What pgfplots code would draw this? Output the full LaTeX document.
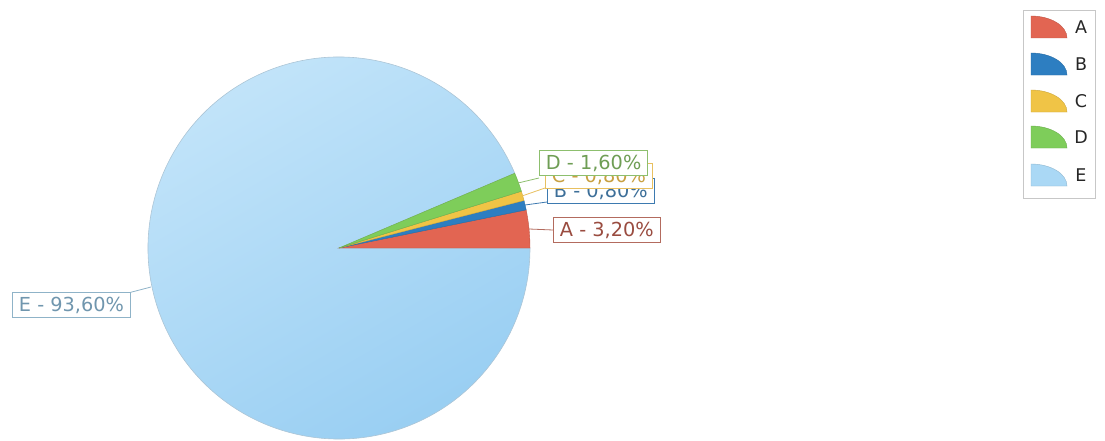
\documentclass[border=0pt]{standalone}
\usepackage{pgfplots}
\pgfplotsset{compat=1.18}
\usepackage{fontspec}
\setmainfont{DejaVu Sans}
\definecolor{colA}{RGB}{226,101,82}
\definecolor{colB}{RGB}{45,126,193}
\definecolor{colC}{RGB}{240,196,70}
\definecolor{colD}{RGB}{126,205,90}
\definecolor{colE}{RGB}{170,216,245}
\definecolor{colEtop}{RGB}{196,229,250}
\definecolor{colEbot}{RGB}{152,206,242}
\definecolor{bA}{RGB}{179,107,94}
\definecolor{tA}{RGB}{154,76,64}
\definecolor{bB}{RGB}{61,122,176}
\definecolor{tB}{RGB}{61,111,153}
\definecolor{bC}{RGB}{232,192,96}
\definecolor{tC}{RGB}{200,160,64}
\definecolor{bD}{RGB}{141,191,110}
\definecolor{tD}{RGB}{111,158,85}
\definecolor{bE}{RGB}{143,179,200}
\definecolor{tE}{RGB}{112,150,174}
% data (percent)
\def\pA{3.2}
\def\pB{0.8}
\def\pC{0.8}
\def\pD{1.6}
\def\pE{93.6}
\def\cx{339}
\def\cy{192}
\def\R{191}
\begin{document}
\begin{tikzpicture}
\begin{axis}[
  width=1105pt, height=440pt, scale only axis,
  xmin=0, xmax=1105, ymin=0, ymax=440,
  hide axis, clip=false,
]
% slices
\shade[top color=colEtop, bottom color=colEbot, shading angle=30, draw=colE!80!black!70, line width=0.6pt]
  (axis cs:\cx,\cy) -- ++({(\pA+\pB+\pC+\pD)*3.6}:\R) arc[start angle={(\pA+\pB+\pC+\pD)*3.6}, end angle=360, radius=\R] -- cycle;
\fill[colA, draw=colA!85!black, line width=0.4pt]
  (axis cs:\cx,\cy) -- ++(0:\R) arc[start angle=0, end angle={\pA*3.6}, radius=\R] -- cycle;
\fill[colB, draw=colB!85!black, line width=0.4pt]
  (axis cs:\cx,\cy) -- ++({\pA*3.6}:\R) arc[start angle={\pA*3.6}, end angle={(\pA+\pB)*3.6}, radius=\R] -- cycle;
\fill[colC, draw=colC!85!black, line width=0.4pt]
  (axis cs:\cx,\cy) -- ++({(\pA+\pB)*3.6}:\R) arc[start angle={(\pA+\pB)*3.6}, end angle={(\pA+\pB+\pC)*3.6}, radius=\R] -- cycle;
\fill[colD, draw=colD!85!black, line width=0.4pt]
  (axis cs:\cx,\cy) -- ++({(\pA+\pB+\pC)*3.6}:\R) arc[start angle={(\pA+\pB+\pC)*3.6}, end angle={(\pA+\pB+\pC+\pD)*3.6}, radius=\R] -- cycle;
% leader lines
\draw[bE, line width=0.8pt] (axis cs:151,153) -- (axis cs:128,147);
\draw[bA, line width=0.8pt] (axis cs:529,211) -- (axis cs:553,210);
\draw[bB, line width=0.8pt] (axis cs:525,235) -- (axis cs:547,238);
\draw[bC, line width=0.8pt] (axis cs:522,244) -- (axis cs:545,252);
\draw[bD, line width=0.8pt] (axis cs:518,257) -- (axis cs:539,262);
% labels
\tikzset{lbl/.style={fill=white, anchor=west, minimum height=25pt, inner xsep=6.5pt, inner ysep=0pt, line width=0.9pt, font=\fontsize{19.3}{20}\selectfont}}
\node[lbl, draw=bE, text=tE] at (axis cs:12,135) {E - 93,60\%};
\node[lbl, draw=bA, text=tA] at (axis cs:553,210) {A - 3,20\%};
\node[lbl, draw=bB, text=tB] at (axis cs:547,249) {B - 0,80\%};
\node[lbl, draw=bC, text=tC] at (axis cs:545,264) {C - 0,80\%};
\node[lbl, draw=bD, text=tD] at (axis cs:539,277) {D - 1,60\%};
% legend
\draw[black!22, fill=white, line width=0.8pt] (axis cs:1023,430) rectangle (axis cs:1095,242);
\foreach \yc/\c/\n in {413/colA/A, 376/colB/B, 339/colC/C, 303/colD/D, 265/colE/E}{
  \edef\tmp{\noexpand\fill[\c, draw=\c!85!black, line width=0.4pt] (axis cs:1031,\yc-11) -- (axis cs:1031,\yc+11) arc[start angle=90, end angle=0, x radius=36, y radius=22] -- cycle;
  \noexpand\node[font=\noexpand\fontsize{17.5}{18}\noexpand\selectfont, text=black!85] at (axis cs:1081,\yc) {\n};}
  \tmp
}
\end{axis}
\pgfresetboundingbox
\useasboundingbox (current axis.south west) rectangle (current axis.north east);
\end{tikzpicture}
\end{document}
